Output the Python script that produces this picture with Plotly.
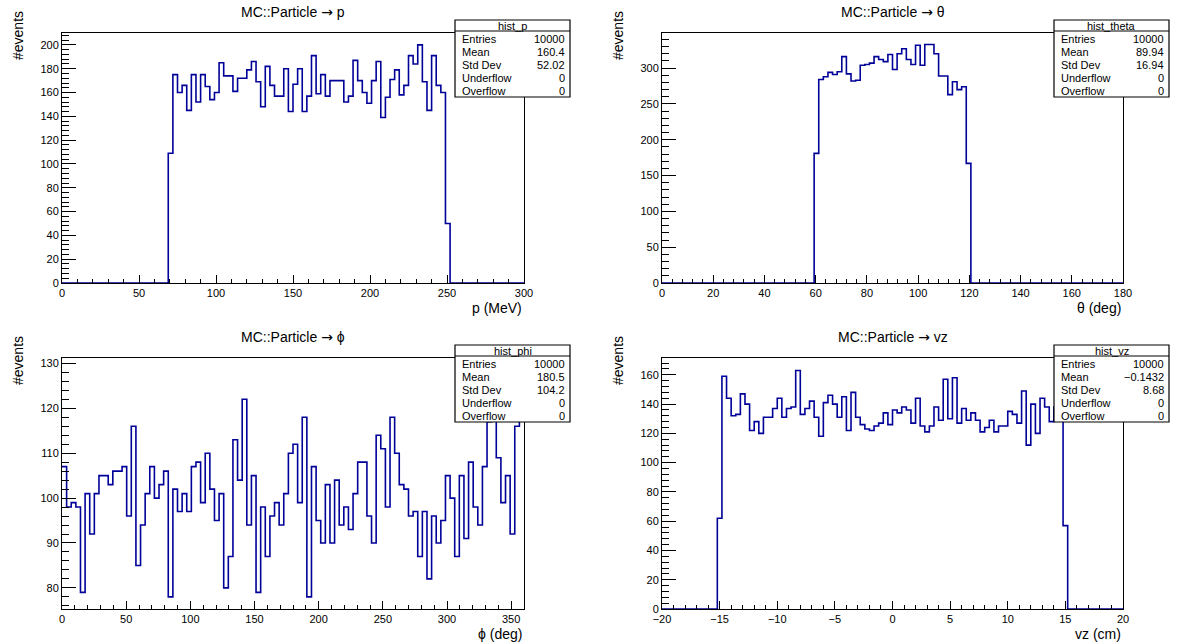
import numpy as np
import plotly.graph_objects as go

W, H = 1186, 643
FONT = 'Liberation Sans, Arial, Helvetica, sans-serif'
LINE = '#000099'

# ── bin contents (100 bins per histogram) ──────────────
p_counts = [0] * 23 + [
    109, 175, 160, 166, 145, 175, 152, 175, 165, 154,
    160, 185, 174, 174, 161, 172, 172, 179, 186, 169,
    148, 182, 166, 157, 157, 180, 144, 167, 180, 144,
    157, 191, 159, 175, 157, 170, 170, 170, 152, 157,
    187, 170, 160, 151, 170, 186, 139, 156, 171, 179,
    158, 166, 191, 184, 200, 169, 145, 191, 166, 160,
    50] + [0] * 16

theta_counts = [0] * 33 + [
    181, 284, 288, 294, 291, 295, 316, 292, 282, 283,
    304, 305, 307, 316, 312, 309, 319, 298, 320, 327,
    312, 305, 332, 304, 333, 333, 320, 289, 289, 263,
    281, 270, 274, 167] + [0] * 33

phi_counts = [
    107, 98, 99, 98, 79, 101, 92, 101, 105, 105,
    103, 106, 106, 107, 96, 116, 85, 94, 101, 107,
    100, 103, 106, 78, 102, 97, 101, 97, 107, 108,
    99, 110, 102, 95, 101, 80, 87, 113, 104, 122,
    94, 105, 79, 98, 87, 96, 99, 94, 101, 110,
    112, 99, 118, 78, 107, 95, 90, 103, 90, 104,
    94, 98, 93, 101, 108, 108, 96, 90, 114, 111,
    98, 118, 110, 103, 102, 96, 97, 87, 97, 82,
    96, 90, 95, 105, 100, 87, 105, 91, 108, 98,
    94, 107, 117, 129, 109, 99, 105, 92, 116, 120]

vz_counts = [0] * 12 + [62] + [
    159, 144, 132, 133, 147, 140, 122, 128, 120, 131,
    131, 137, 144, 131, 137, 138, 163, 133, 137, 142,
    131, 118, 141, 146, 140, 131, 145, 122, 148, 131,
    126, 123, 122, 125, 127, 134, 126, 136, 134, 138,
    136, 127, 144, 125, 121, 125, 138, 129, 157, 130,
    158, 127, 137, 129, 134, 129, 121, 124, 129, 121,
    125, 125, 135, 133, 127, 149, 112, 140, 120, 144,
    138, 128, 138, 136] + [57] + [0] * 12

stat_labels = ['Entries', 'Mean', 'Std Dev', 'Underflow', 'Overflow']
p_stats = ['10000', '160.4', '52.02', '0', '0']
theta_stats = ['10000', '89.94', '16.94', '0', '0']
phi_stats = ['10000', '180.5', '104.2', '0', '0']
vz_stats = ['10000', '\u22120.1432', '8.68', '0', '0']

ARROW = '<span style="font-family:DejaVu Sans">\u2192</span>'

PANELS = [
    dict(name='hist_p', counts=p_counts, lo=0, hi=300, title=f'MC::Particle {ARROW} p',
         xtitle='p (MeV)', stats=p_stats, yrange=[0, 210],
         xd=50, xm=10, yd=20, ym=4, col=0, row=0),
    dict(name='hist_theta', counts=theta_counts, lo=0, hi=180, title=f'MC::Particle {ARROW} \u03b8',
         xtitle='\u03b8 (deg)', stats=theta_stats, yrange=[0, 349],
         xd=20, xm=4, yd=50, ym=10, col=1, row=0),
    dict(name='hist_phi', counts=phi_counts, lo=0, hi=360, title=f'MC::Particle {ARROW} \u03d5',
         xtitle='\u03d5 (deg)', stats=phi_stats, yrange=[75.3, 131.2],
         xd=50, xm=10, yd=10, ym=2, col=0, row=1),
    dict(name='hist_vz', counts=vz_counts, lo=-20, hi=20, title=f'MC::Particle {ARROW} vz',
         xtitle='vz (cm)', stats=vz_stats, yrange=[0, 171.5],
         xd=5, xm=1, yd=20, ym=4, col=1, row=1),
]

# frame edges in canvas pixels
COLS = [(62, 524), (662, 1123)]
ROWS = [(33, 283), (358, 609)]


def fx(x):
    return x / W


def fy(y):
    return 1 - y / H


fig = go.Figure()
layout = dict(
    width=W, height=H,
    paper_bgcolor='white', plot_bgcolor='white',
    margin=dict(l=0, r=0, t=0, b=0, pad=0, autoexpand=False),
    showlegend=False,
    hovermode=False,
    font=dict(family=FONT, color='black', size=11),
)
shapes, annotations = [], []

for i, pnl in enumerate(PANELS):
    n = i + 1
    xa = 'xaxis' if n == 1 else f'xaxis{n}'
    ya = 'yaxis' if n == 1 else f'yaxis{n}'
    x0, x1 = COLS[pnl['col']]
    y0, y1 = ROWS[pnl['row']]

    counts = np.array(pnl['counts'], dtype=float)
    edges = np.linspace(pnl['lo'], pnl['hi'], len(counts) + 1)
    fig.add_trace(go.Scatter(
        x=edges, y=np.append(counts, counts[-1]),
        mode='lines', line=dict(color=LINE, width=1.6, shape='hv'),
        xaxis=f'x{n}' if n > 1 else 'x', yaxis=f'y{n}' if n > 1 else 'y',
        hoverinfo='skip',
    ))

    layout[xa] = dict(
        domain=[fx(x0), fx(x1)], anchor=f'y{n}' if n > 1 else 'y',
        range=[pnl['lo'], pnl['hi']], automargin=False,
        showline=True, mirror=True, linecolor='black', linewidth=1,
        showgrid=False, zeroline=False,
        ticks='inside', ticklen=8, tickcolor='black', tickwidth=1,
        tickmode='linear', tick0=0, dtick=pnl['xd'],
        minor=dict(ticks='inside', ticklen=4, tickcolor='black', dtick=pnl['xm'], showgrid=False),
        tickfont=dict(family=FONT, size=11, color='black'),
    )
    layout[ya] = dict(
        domain=[fy(y1), fy(y0)], anchor=f'x{n}' if n > 1 else 'x',
        range=pnl['yrange'], automargin=False,
        showline=True, mirror=True, linecolor='black', linewidth=1,
        showgrid=False, zeroline=False,
        ticks='inside', ticklen=14, tickcolor='black', tickwidth=1,
        tickmode='linear', tick0=0, dtick=pnl['yd'],
        minor=dict(ticks='inside', ticklen=7, tickcolor='black', dtick=pnl['ym'], showgrid=False),
        tickfont=dict(family=FONT, size=11, color='black'),
    )

    # titles
    annotations.append(dict(
        text=pnl['title'], x=fx((x0 + x1) / 2), y=fy(y0 - 21),
        xref='paper', yref='paper', xanchor='center', yanchor='middle',
        showarrow=False, font=dict(family=FONT, size=14, color='black')))
    annotations.append(dict(
        text=pnl['xtitle'], x=fx(x1), y=fy(y1 + 25),
        xref='paper', yref='paper', xanchor='right', yanchor='middle',
        showarrow=False, font=dict(family=FONT, size=14, color='black')))
    annotations.append(dict(
        text='#events', x=fx(x0 - 44), y=fy(y0 + 3),
        xref='paper', yref='paper', xanchor='center', yanchor='middle',
        textangle=-90, showarrow=False, font=dict(family=FONT, size=14, color='black')))

    # stats box
    bx0, bx1 = x1 - 69, x1 + 46
    by0 = y0 - 13
    by1 = by0 + 77
    shapes.append(dict(type='rect', xref='paper', yref='paper',
                       x0=fx(bx0), x1=fx(bx1), y0=fy(by1), y1=fy(by0),
                       fillcolor='white', line=dict(color='black', width=1.2), layer='above'))
    shapes.append(dict(type='line', xref='paper', yref='paper',
                       x0=fx(bx0), x1=fx(bx1), y0=fy(by0 + 11), y1=fy(by0 + 11),
                       line=dict(color='black', width=1), layer='above'))
    annotations.append(dict(
        text=pnl['name'], x=fx((bx0 + bx1) / 2), y=fy(by0 + 5.5),
        xref='paper', yref='paper', xanchor='center', yanchor='middle',
        showarrow=False, font=dict(family=FONT, size=11, color='black')))
    for j, (lab, val) in enumerate(zip(stat_labels, pnl['stats'])):
        ty = by0 + 19 + j * 13
        annotations.append(dict(
            text=lab, x=fx(bx0 + 5), y=fy(ty), xref='paper', yref='paper',
            xanchor='left', yanchor='middle', showarrow=False,
            font=dict(family=FONT, size=11, color='black')))
        annotations.append(dict(
            text=val, x=fx(bx1 - 3), y=fy(ty), xref='paper', yref='paper',
            xanchor='right', yanchor='middle', showarrow=False,
            font=dict(family=FONT, size=11, color='black')))

layout['shapes'] = shapes
layout['annotations'] = annotations
fig.update_layout(**layout)

# the canvas fills the window: drop the default page margin
fig.write_html('out.html', config=dict(displayModeBar=False, staticPlot=True),
               post_script="document.body.style.margin='0';")
